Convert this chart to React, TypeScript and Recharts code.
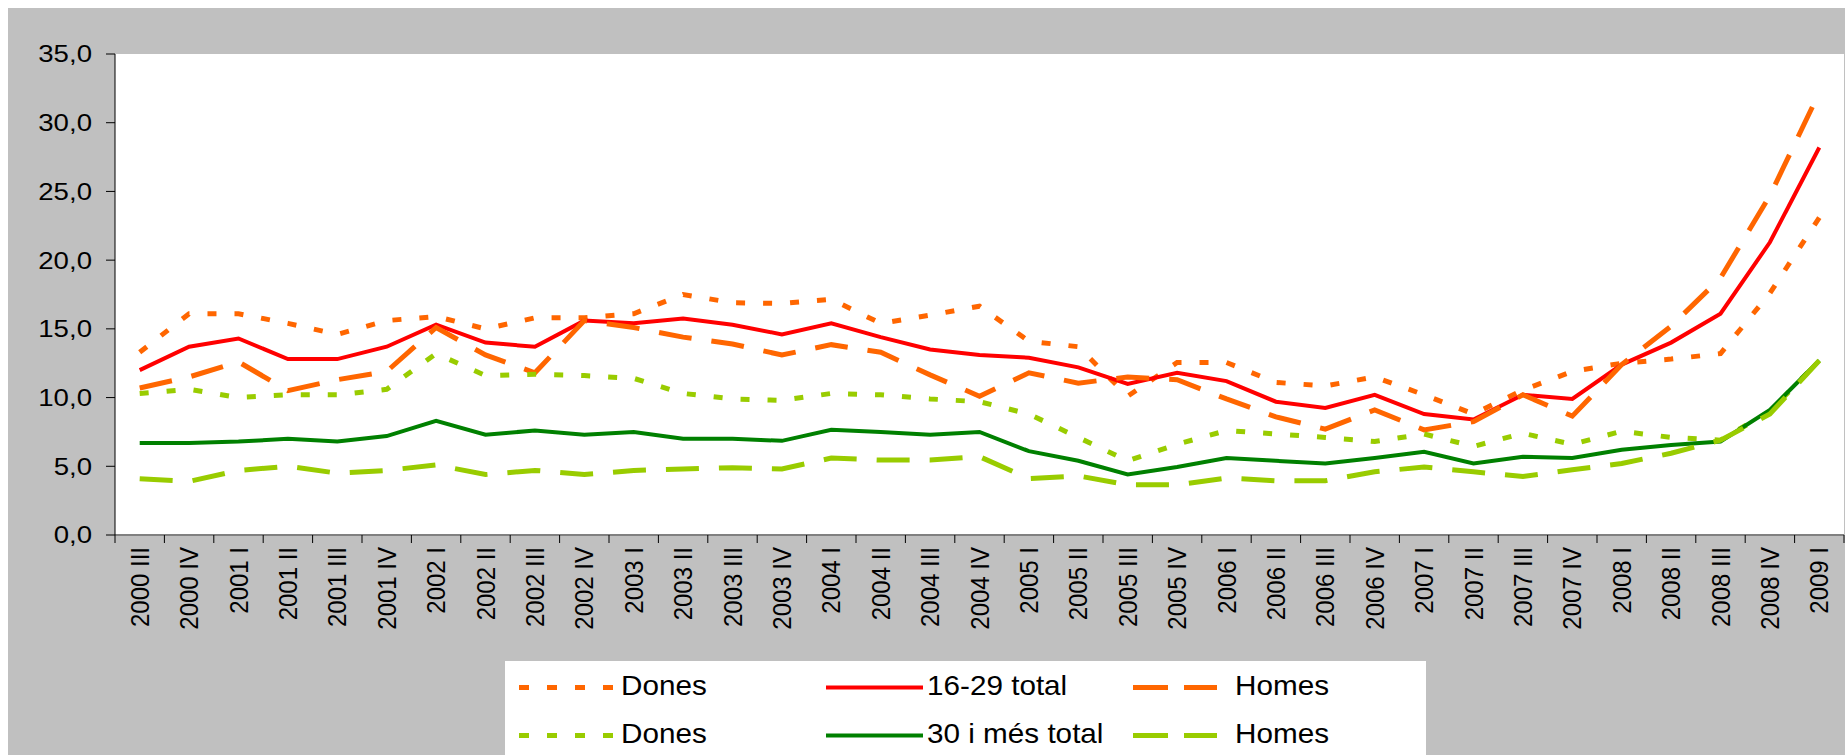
import { LineChart, Line, XAxis, YAxis, CartesianGrid } from 'recharts'

const quarters = [
  '2000 III', '2000 IV',
  '2001 I', '2001 II', '2001 III', '2001 IV',
  '2002 I', '2002 II', '2002 III', '2002 IV',
  '2003 I', '2003 II', '2003 III', '2003 IV',
  '2004 I', '2004 II', '2004 III', '2004 IV',
  '2005 I', '2005 II', '2005 III', '2005 IV',
  '2006 I', '2006 II', '2006 III', '2006 IV',
  '2007 I', '2007 II', '2007 III', '2007 IV',
  '2008 I', '2008 II', '2008 III', '2008 IV',
  '2009 I',
]

// 16-29 anys
const dones1629 = [
  13.3, 16.1, 16.1, 15.4, 14.6, 15.6, 15.9, 15.0, 15.8, 15.8,
  16.1, 17.5, 16.9, 16.85, 17.15, 15.4, 16.0, 16.65, 14.1, 13.7, 10.1, 12.55,
  12.55, 11.1, 10.85, 11.5, 10.2, 8.8, 10.55, 11.9, 12.5, 12.8, 13.2, 17.6, 23.1,
]
const total1629 = [
  12.0, 13.7, 14.3, 12.8, 12.8, 13.7, 15.3, 14.0, 13.7, 15.6,
  15.4, 15.75, 15.3, 14.6, 15.4, 14.4, 13.5, 13.1, 12.9, 12.2, 11.0, 11.8,
  11.2, 9.7, 9.25, 10.2, 8.8, 8.4, 10.2, 9.9, 12.4, 14.0, 16.1, 21.3, 28.2,
]
const homes1629 = [
  10.7, 11.5, 12.6, 10.5, 11.3, 11.9, 15.1, 13.1, 11.8, 15.6,
  15.1, 14.4, 13.9, 13.1, 13.85, 13.3, 11.65, 10.1, 11.8, 11.05, 11.5, 11.3,
  9.9, 8.6, 7.7, 9.1, 7.65, 8.25, 10.2, 8.65, 12.4, 15.2, 18.7, 24.7, 32.2,
]

// 30 i més
const dones30 = [
  10.3, 10.6, 10.0, 10.2, 10.2, 10.6, 13.2, 11.6, 11.7, 11.6,
  11.4, 10.3, 9.9, 9.8, 10.3, 10.2, 9.9, 9.7, 8.8, 7.1, 5.4, 6.6,
  7.6, 7.35, 7.1, 6.8, 7.35, 6.45, 7.4, 6.6, 7.55, 7.1, 6.9, 9.0, 12.7,
]
const total30 = [
  6.7, 6.7, 6.8, 7.0, 6.8, 7.2, 8.3, 7.3, 7.6, 7.3,
  7.5, 7.0, 7.0, 6.85, 7.65, 7.5, 7.3, 7.5, 6.1, 5.4, 4.4, 4.95,
  5.6, 5.4, 5.2, 5.6, 6.05, 5.2, 5.7, 5.6, 6.2, 6.55, 6.8, 9.1, 12.7,
]
const homes30 = [
  4.1, 3.9, 4.7, 5.0, 4.5, 4.7, 5.1, 4.4, 4.7, 4.4,
  4.7, 4.8, 4.9, 4.8, 5.6, 5.45, 5.45, 5.7, 4.1, 4.3, 3.65, 3.65,
  4.15, 3.95, 3.95, 4.6, 4.95, 4.6, 4.25, 4.75, 5.2, 5.95, 6.9, 8.8, 12.7,
]

const yTicks = [0, 5, 10, 15, 20, 25, 30, 35]

const ORANGE = '#FF6600'
const RED = '#FF0000'
const GREEN = '#008000'
const LIME = '#99CC00'
const DOT = '9 18'
const DASH = '33 20'
const FONT = '"Liberation Sans", Arial, sans-serif'

const W = 1837
const H = 747
const Y_AXIS_W = 107
const PLOT_W = W - Y_AXIS_W - 1
const HALF_BAND = PLOT_W / quarters.length / 2
// the original picture is a little stretched sideways
const STRETCH = 1.15

const data = quarters.map((q, i) => ({
  x: i + 0.5,
  q,
  dones1629: dones1629[i],
  total1629: total1629[i],
  homes1629: homes1629[i],
  dones30: dones30[i],
  total30: total30[i],
  homes30: homes30[i],
}))

// ticks sit on the category boundaries, labels in the middle
const boundaries = [...quarters.map((_, i) => i), quarters.length]

function QuarterTick(props: any) {
  const { x, y, payload } = props
  const label = quarters[payload.value]
  if (!label) return null
  return (
    <g transform={`translate(${x + HALF_BAND},${y}) scale(1.08,1)`}>
      <text transform="rotate(-90)" x={-2} dy="0.35em" textAnchor="end" fontSize={24} fill="#000" fontFamily={FONT}>
        {label}
      </text>
    </g>
  )
}

function ValueTick(props: any) {
  const { x, y, payload } = props
  return (
    <g transform={`translate(${x},${y}) scale(${STRETCH},1)`}>
      <text dy="0.35em" textAnchor="end" fontSize={24} fill="#000" fontFamily={FONT}>
        {Number(payload.value).toFixed(1).replace('.', ',')}
      </text>
    </g>
  )
}

const legendRows = [
  [
    { label: 'Dones', color: ORANGE, dash: '10 18', width: 5 },
    { label: '16-29 total', color: RED, dash: undefined, width: 4 },
    { label: 'Homes', color: ORANGE, dash: '35 16', width: 5 },
  ],
  [
    { label: 'Dones', color: LIME, dash: '10 18', width: 5 },
    { label: '30 i més total', color: GREEN, dash: undefined, width: 4 },
    { label: 'Homes', color: LIME, dash: '35 16', width: 5 },
  ],
]
const legendCols = [
  { x1: 14, x2: 109, tx: 116 },
  { x1: 321, x2: 418, tx: 422 },
  { x1: 628, x2: 712, tx: 730 },
]

function ChartLegend() {
  return (
    <div style={{ position: 'absolute', left: 497, top: 653, width: 921, height: 94, background: '#fff' }}>
      <svg width={921} height={94}>
        {legendRows.map((row, r) =>
          row.map((item, c) => {
            const cy = 24 + r * 48
            const col = legendCols[c]
            return (
              <g key={`${r}-${c}`}>
                <line
                  x1={col.x1}
                  x2={col.x2}
                  y1={cy + 2.5}
                  y2={cy + 2.5}
                  stroke={item.color}
                  strokeWidth={item.width}
                  strokeDasharray={item.dash}
                />
                <g transform={`translate(${col.tx},${cy}) scale(1.06,1)`}>
                  <text dy="0.35em" fontSize={28} fontFamily={FONT} fill="#000">
                    {item.label}
                  </text>
                </g>
              </g>
            )
          })
        )}
      </svg>
    </div>
  )
}

export default function App() {
  return (
    <div
      style={{
        position: 'fixed',
        left: 8,
        top: 8,
        width: W,
        height: H,
        background: '#C0C0C0',
        overflow: 'hidden',
        fontFamily: FONT,
      }}
    >
      <LineChart width={W} height={H} data={data} margin={{ top: 46, right: 1, left: 0, bottom: 0 }}>
        <CartesianGrid fill="#fff" stroke="none" horizontal={false} vertical={false} />
        <XAxis
          dataKey="x"
          type="number"
          domain={[0, quarters.length]}
          ticks={boundaries}
          interval={0}
          height={220}
          tickSize={8}
          axisLine={{ stroke: '#808080', strokeWidth: 2 }}
          tickLine={{ stroke: '#000' }}
          tick={<QuarterTick />}
        />
        <YAxis
          domain={[0, 35]}
          ticks={yTicks}
          interval={0}
          width={Y_AXIS_W}
          tickSize={9}
          tickMargin={14}
          axisLine={{ stroke: '#000' }}
          tickLine={{ stroke: '#000' }}
          tick={<ValueTick />}
        />
        <Line dataKey="dones1629" stroke={ORANGE} strokeWidth={5} strokeDasharray={DOT} dot={false} isAnimationActive={false} />
        <Line dataKey="total1629" stroke={RED} strokeWidth={4} dot={false} isAnimationActive={false} />
        <Line dataKey="homes1629" stroke={ORANGE} strokeWidth={5} strokeDasharray={DASH} dot={false} isAnimationActive={false} />
        <Line dataKey="dones30" stroke={LIME} strokeWidth={5} strokeDasharray={DOT} dot={false} isAnimationActive={false} />
        <Line dataKey="total30" stroke={GREEN} strokeWidth={4} dot={false} isAnimationActive={false} />
        <Line dataKey="homes30" stroke={LIME} strokeWidth={5} strokeDasharray={DASH} dot={false} isAnimationActive={false} />
      </LineChart>
      <ChartLegend />
    </div>
  )
}
